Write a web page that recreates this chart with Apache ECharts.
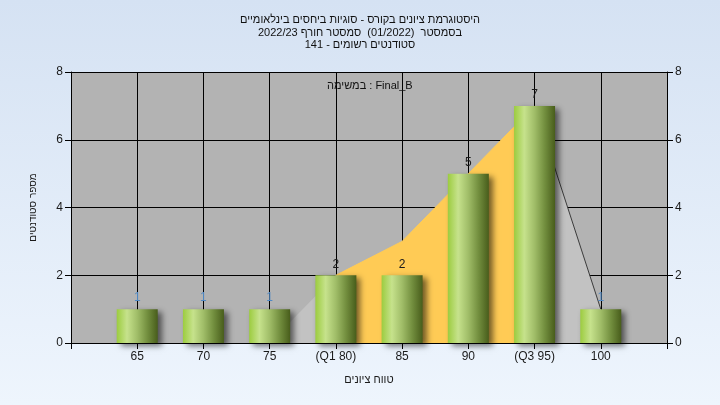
<!DOCTYPE html>
<html>
<head>
<meta charset="utf-8">
<script src="https://cdn.jsdelivr.net/npm/echarts@6/dist/echarts.min.js"></script>
<style>html,body{margin:0;padding:0;}#c{width:720px;height:405px;}</style>
</head>
<body>
<div id="c"></div>
<script>
// ---- data ----
var categories = ['', '65', '70', '75', '(Q1 80)', '85', '90', '(Q3 95)', '100', ''];
var barValues = [null, 1, 1, 1, 2, 2, 5, 7, 1, null];
var grayAreaValues = [null, 0, 0, 0, 2, 3, 5, 7, 1, null];
var quartileAreaValues = [null, null, null, null, 2, 3, 5, 7, null, null];
var tailLineValues = [null, null, null, null, null, null, null, 7, 1, null];
var yTicks = { min: 0, max: 8, interval: 2 };
var titleLines = [
  'היסטוגרמת ציונים בקורס - סוגיות ביחסים בינלאומיים',
  'בסמסטר  (01/2022)  סמסטר חורף 2022/23',
  'סטודנטים רשומים - 141'
];
var taskLabel = 'במשימה : Final_B';
var yAxisName = 'מספר סטודנטים';
var xAxisName = 'טווח ציונים';

// ---- chart ----
var FONT = "'Liberation Sans', Arial, 'DejaVu Sans', sans-serif";
var chart = echarts.init(document.getElementById('c'), null, { renderer: 'canvas' });

var barGradient = new echarts.graphic.LinearGradient(0, 0, 1, 0, [
  { offset: 0, color: '#9ccc3f' },
  { offset: 0.25, color: '#c6e28c' },
  { offset: 0.5, color: '#a0bd68' },
  { offset: 0.75, color: '#728e3e' },
  { offset: 1, color: '#485d1b' }
]);

function yAxisDef(pos) {
  return {
    type: 'value', position: pos,
    min: yTicks.min, max: yTicks.max, interval: yTicks.interval,
    axisLine: { show: true, lineStyle: { color: '#000', width: 1 } },
    axisTick: { show: true, length: 6, lineStyle: { color: '#000' } },
    splitLine: { show: pos === 'left', lineStyle: { color: '#000', width: 1 } },
    axisLabel: { color: '#1a1a1a', fontSize: 12, fontFamily: FONT, margin: 8 },
    name: pos === 'left' ? yAxisName : '',
    nameLocation: 'middle', nameGap: 33, nameRotate: 90,
    nameTextStyle: { color: '#1a1a1a', fontSize: 10, fontFamily: FONT }
  };
}

var option = {
  animation: false,
  backgroundColor: new echarts.graphic.LinearGradient(0, 0, 0, 1, [
    { offset: 0, color: '#d5e2f3' },
    { offset: 1, color: '#eef5fd' }
  ]),
  title: {
    text: titleLines.join('\n'),
    left: 'center', top: 9,
    textStyle: { fontSize: 11, lineHeight: 12.5, fontWeight: 'normal', color: '#111', fontFamily: FONT }
  },
  graphic: [{
    type: 'text', left: 327, top: 80, z: 100,
    style: { text: taskLabel, fontSize: 11, fontFamily: FONT, fill: '#111' }
  }],
  grid: {
    left: 71, right: 53, top: 72, bottom: 62,
    show: true, backgroundColor: '#b3b3b3', borderWidth: 0
  },
  xAxis: {
    type: 'category', data: categories, boundaryGap: false,
    axisLine: { show: true, lineStyle: { color: '#000', width: 1 } },
    axisTick: { show: true, length: 6, lineStyle: { color: '#000' } },
    splitLine: { show: true, lineStyle: { color: '#000', width: 1 } },
    axisLabel: { color: '#1a1a1a', fontSize: 12, fontFamily: FONT, margin: 8, interval: 0 },
    name: xAxisName, nameLocation: 'middle', nameGap: 31,
    nameTextStyle: { color: '#1a1a1a', fontSize: 11, fontFamily: FONT }
  },
  yAxis: [yAxisDef('left'), yAxisDef('right')],
  series: [
    {
      type: 'line', data: grayAreaValues, symbol: 'none', z: 1,
      lineStyle: { width: 0, color: '#c2c2c2' },
      areaStyle: { color: '#c2c2c2', opacity: 1 }
    },
    {
      type: 'line', data: quartileAreaValues, symbol: 'none', z: 2,
      lineStyle: { width: 1, color: '#ffcb55' },
      areaStyle: { color: '#ffcb55', opacity: 1 }
    },
    {
      type: 'line', data: tailLineValues, symbol: 'none', z: 3,
      lineStyle: { width: 1, color: '#3c3c3c' }
    },
    {
      type: 'bar', z: 5, barWidth: 41,
      data: barValues.map(function (v) {
        return { value: v, label: { color: v === 1 ? '#4f88c4' : '#1a1a1a' } };
      }),
      itemStyle: {
        color: barGradient,
        shadowColor: 'rgba(0,0,0,0.55)', shadowBlur: 6, shadowOffsetX: 4, shadowOffsetY: 3
      },
      label: { show: true, position: 'top', distance: 5, fontSize: 12, fontFamily: FONT }
    }
  ]
};
chart.setOption(option);
</script>
</body>
</html>
